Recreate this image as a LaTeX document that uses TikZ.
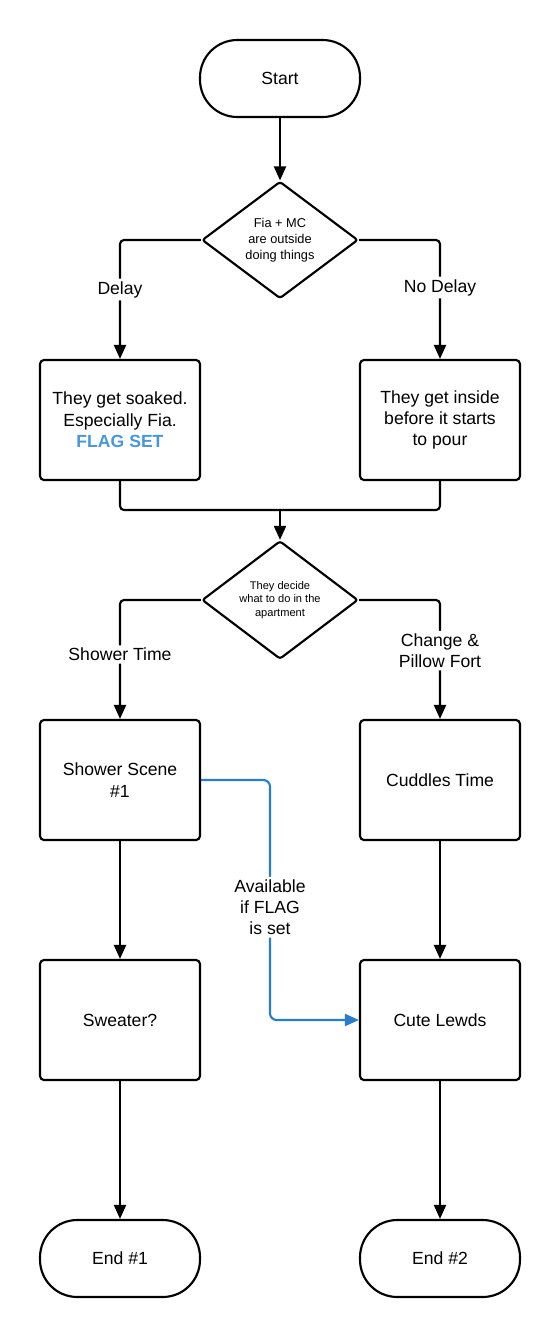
\documentclass[tikz,border=0pt]{standalone}
\usepackage{fontspec}
\setmainfont{Liberation Sans}
\usetikzlibrary{shapes.geometric,arrows.meta,positioning}
\definecolor{flowblue}{RGB}{40,125,205}
\definecolor{flagblue}{RGB}{70,152,218}
\begin{document}
\begin{tikzpicture}[x=0.75pt,y=-0.75pt,
  every node/.style={font=\fontsize{13.2}{16}\selectfont},
  term/.style={draw,line width=1.6pt,rounded corners=28pt,minimum width=120pt,minimum height=57.75pt,inner sep=0pt},
  stepbox/.style={draw,line width=1.6pt,rounded corners=3pt,minimum width=120pt,minimum height=90pt,inner sep=0pt,align=center},
  decide/.style={draw,line width=1.6pt,diamond,rounded corners=2pt,minimum width=117pt,minimum height=87.75pt,inner sep=0pt,align=center},
  conn/.style={line width=1.6pt,rounded corners=3pt},
  arr/.style={conn,-{Triangle[length=10.5pt,width=9pt]}},
  bluearr/.style={line width=1.6pt,draw=flowblue,rounded corners=5pt,-{Triangle[length=10.5pt,width=9pt]}},
  lbl/.style={fill=white,inner sep=2pt,align=center}
]
\useasboundingbox (0,0) rectangle (560,1340);
\node[term] (start) at (280,78.5) {Start};
\node[decide,font=\fontsize{9.6}{12}\selectfont] (d1) at (280,240) {Fia + MC\\are outside\\doing things};
\node[stepbox] (soak) at (120,420) {They get soaked.\\Especially Fia.\\\textcolor{flagblue}{\textbf{FLAG SET}}};
\node[stepbox] (inside) at (440,420) {They get inside\\before it starts\\to pour};
\coordinate (merge) at (280,510);
\node[decide,font=\fontsize{8.3}{10}\selectfont] (d2) at (280,600) {They decide\\what to do in the\\apartment};
\node[stepbox] (shower) at (120,780) {Shower Scene\\\#1};
\node[stepbox] (cuddle) at (440,780) {Cuddles Time};
\node[stepbox] (sweater) at (120,1020) {Sweater?};
\node[stepbox] (lewds) at (440,1020) {Cute Lewds};
\node[term] (end1) at (120,1258.5) {End \#1};
\node[term] (end2) at (440,1258.5) {End \#2};
\coordinate (bend) at (270,780);

\draw[arr] (start) -- (d1);
\draw[arr] (d1.west) -| node[lbl,pos=0.708] {Delay} (soak.north);
\draw[arr] (d1.east) -| node[lbl,pos=0.70] {No Delay} (inside.north);
\draw[conn] (soak.south) |- (merge);
\draw[conn] (inside.south) |- (merge);
\draw[arr] (merge) -- (d2.north);
\draw[arr] (d2.west) -| node[lbl,pos=0.729] {Shower Time} (shower.north);
\draw[arr] (d2.east) -| node[lbl,pos=0.7125] {Change \&\\Pillow Fort} (cuddle.north);
\draw[arr] (shower) -- (sweater);
\draw[arr] (cuddle) -- (lewds);
\draw[arr] (sweater) -- (end1);
\draw[arr] (lewds) -- (end2);
\draw[bluearr] (shower.east) -- (bend) |- node[lbl,pos=0.265] {Available\\if FLAG\\is set} (lewds.west);
\end{tikzpicture}
\end{document}
